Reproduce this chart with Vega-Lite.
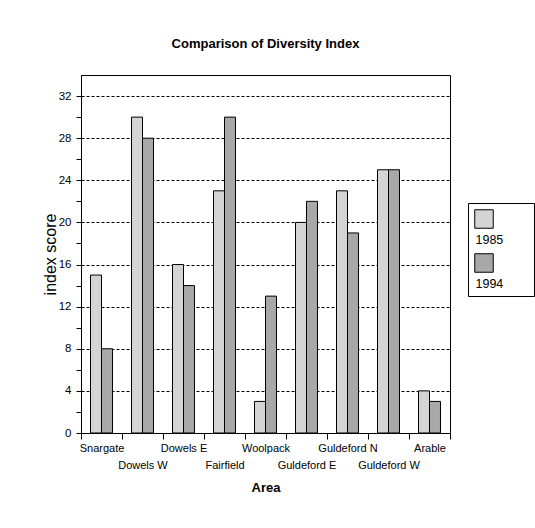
{
  "$schema": "https://vega.github.io/schema/vega-lite/v6.json",
  "width": 369,
  "height": 358,
  "autosize": "none",
  "padding": {"left": 81, "top": 75, "right": 85, "bottom": 95},
  "background": "white",
  "title": {
    "text": "Comparison of Diversity Index",
    "font": "Liberation Sans Narrow, Arial Narrow, Liberation Sans",
    "fontSize": 13,
    "fontWeight": "bold",
    "color": "black",
    "offset": 24,
    "anchor": "middle"
  },
  "data": {
    "values": [
      {"area": "Snargate", "year": "1985", "score": 15},
      {"area": "Snargate", "year": "1994", "score": 8},
      {"area": "Dowels W", "year": "1985", "score": 30},
      {"area": "Dowels W", "year": "1994", "score": 28},
      {"area": "Dowels E", "year": "1985", "score": 16},
      {"area": "Dowels E", "year": "1994", "score": 14},
      {"area": "Fairfield", "year": "1985", "score": 23},
      {"area": "Fairfield", "year": "1994", "score": 30},
      {"area": "Woolpack", "year": "1985", "score": 3},
      {"area": "Woolpack", "year": "1994", "score": 13},
      {"area": "Guldeford E", "year": "1985", "score": 20},
      {"area": "Guldeford E", "year": "1994", "score": 22},
      {"area": "Guldeford N", "year": "1985", "score": 23},
      {"area": "Guldeford N", "year": "1994", "score": 19},
      {"area": "Guldeford W", "year": "1985", "score": 25},
      {"area": "Guldeford W", "year": "1994", "score": 25},
      {"area": "Arable", "year": "1985", "score": 4},
      {"area": "Arable", "year": "1994", "score": 3}
    ]
  },
  "mark": {"type": "bar", "stroke": "black", "strokeWidth": 1},
  "encoding": {
    "x": {
      "field": "area",
      "type": "nominal",
      "sort": null,
      "scale": {"paddingInner": 0, "paddingOuter": 0},
      "axis": {
        "title": "Area",
        "titleFont": "Liberation Sans Narrow, Arial Narrow, Liberation Sans",
        "titleFontSize": 13,
        "titleFontWeight": "bold",
        "titleColor": "black",
        "titlePadding": 11,
        "labelAngle": 0,
        "labelFont": "Liberation Sans Narrow, Arial Narrow, Liberation Sans",
        "labelFontSize": 11,
        "labelColor": "black",
        "labelBaseline": "top",
        "labelPadding": {
          "condition": {"test": "indexof(['Dowels W','Fairfield','Guldeford E','Guldeford W'], datum.value) >= 0", "value": 20},
          "value": 3
        },
        "labelOverlap": false,
        "labelLimit": 200,
        "tickBand": "extent",
        "tickSize": 6,
        "tickColor": "black",
        "domainColor": "black",
        "grid": false
      }
    },
    "xOffset": {
      "field": "year",
      "type": "nominal",
      "scale": {"paddingInner": 0, "paddingOuter": 0.864}
    },
    "y": {
      "field": "score",
      "type": "quantitative",
      "scale": {"domain": [0, 34], "nice": false},
      "axis": {
        "title": "index score",
        "titleFont": "Liberation Sans",
        "titleFontSize": 16,
        "titleFontWeight": "normal",
        "titleColor": "black",
        "titlePadding": 0,
        "values": [0, 2, 4, 6, 8, 10, 12, 14, 16, 18, 20, 22, 24, 26, 28, 30, 32],
        "labelExpr": "datum.value % 4 == 0 ? datum.label : ''",
        "labelFont": "Liberation Sans Narrow, Arial Narrow, Liberation Sans",
        "labelFontSize": 11.5,
        "labelColor": "black",
        "labelPadding": 5,
        "labelOverlap": false,
        "tickSize": 5,
        "tickColor": "black",
        "domainColor": "black",
        "grid": true,
        "gridColor": "black",
        "gridDash": [3, 2],
        "gridOpacity": {
          "condition": {"test": "datum.value % 4 != 0 || datum.value == 0", "value": 0},
          "value": 1
        }
      }
    },
    "fill": {
      "field": "year",
      "type": "nominal",
      "scale": {"domain": ["1985", "1994"], "range": ["#d4d4d4", "#a8a8a8"]},
      "legend": {
        "title": null,
        "orient": "none",
        "legendX": 387,
        "legendY": 128,
        "direction": "vertical",
        "symbolType": "square",
        "symbolSize": 342,
        "symbolStrokeColor": "black",
        "symbolStrokeWidth": 1,
        "labelFont": "Liberation Sans Narrow, Arial Narrow, Liberation Sans",
        "labelFontSize": 12.5,
        "labelColor": "black",
        "labelOffset": -18.5,
        "labelAlign": "left",
        "labelBaseline": "top",
        "labelExpr": "['', datum.label + '\u00a0\u00a0\u00a0\u00a0\u00a0\u00a0\u00a0\u200b']",
        "padding": 6,
        "strokeColor": "black",
        "fillColor": "white",
        "rowPadding": 5
      }
    }
  },
  "config": {"view": {"stroke": "black", "strokeWidth": 1}}
}
